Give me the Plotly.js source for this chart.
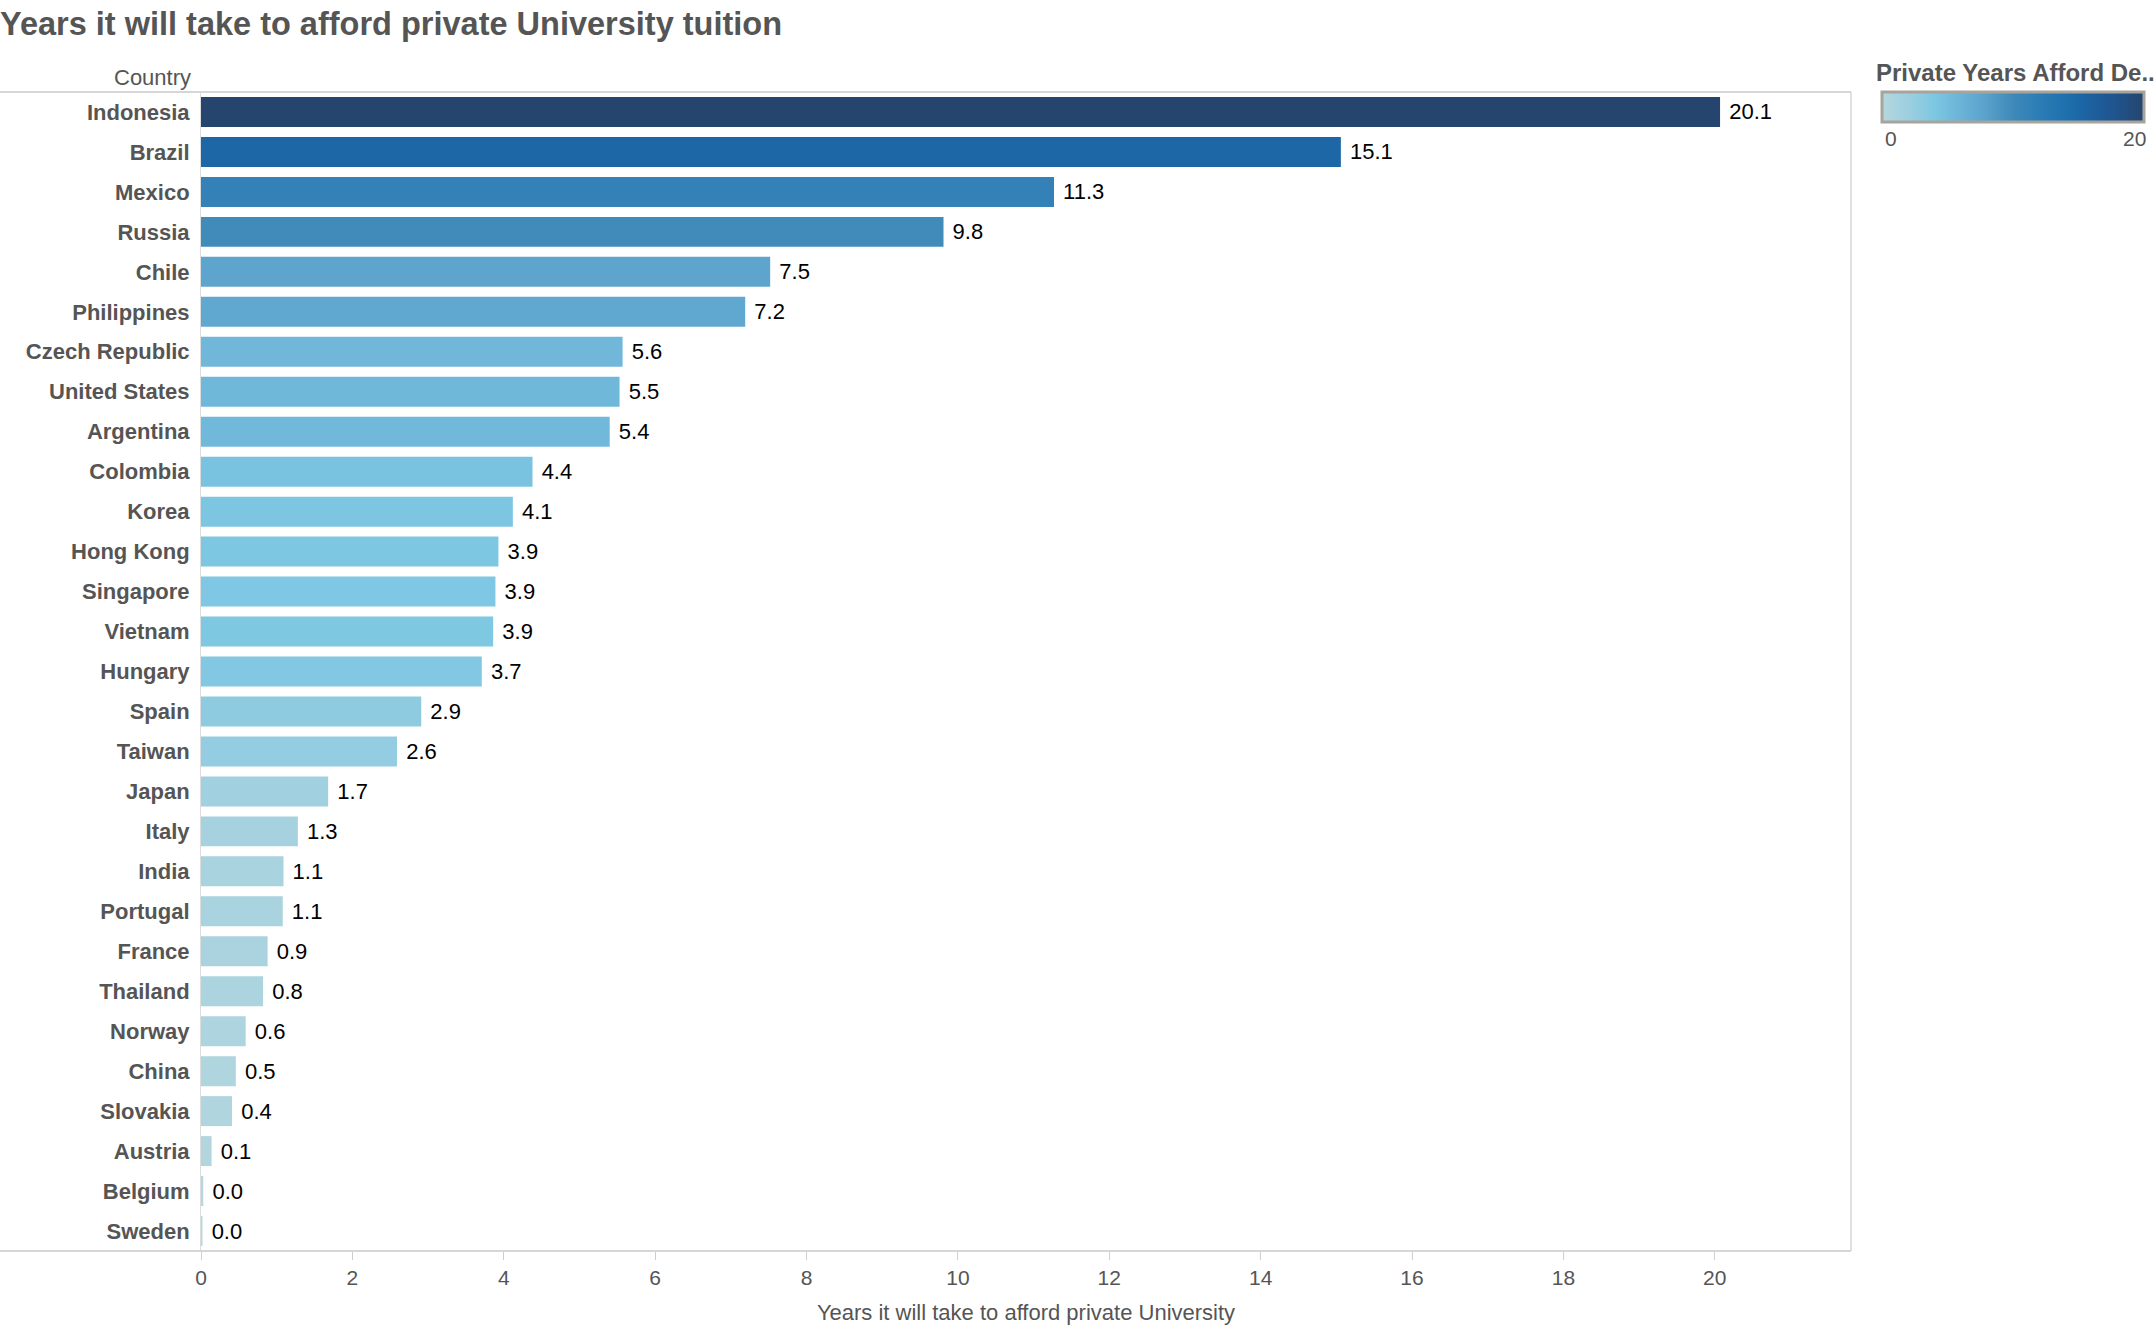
<!DOCTYPE html>
<html>
<head>
<meta charset="utf-8">
<script src="https://cdn.plot.ly/plotly-3.0.1.min.js"></script>
<style>html,body{margin:0;padding:0;background:#fff;}#chart{width:2156px;height:1332px;}</style>
</head>
<body>
<div id="chart"></div>
<script>
const countries = ['Indonesia','Brazil','Mexico','Russia','Chile','Philippines','Czech Republic','United States','Argentina','Colombia','Korea','Hong Kong','Singapore','Vietnam','Hungary','Spain','Taiwan','Japan','Italy','India','Portugal','France','Thailand','Norway','China','Slovakia','Austria','Belgium','Sweden'];
const yearsToAfford = [20.07,15.06,11.27,9.81,7.52,7.19,5.57,5.53,5.40,4.38,4.12,3.93,3.89,3.86,3.71,2.91,2.59,1.68,1.28,1.09,1.08,0.88,0.82,0.59,0.46,0.41,0.14,0.03,0.02];
const xTicks = [0,2,4,6,8,10,12,14,16,18,20];
const legendTicks = [0,20];

const FONT = '"Liberation Sans", Arial, sans-serif';
const GREY = '#555555';

const colorscale = [
  [0.00,'#b5d7de'],
  [0.10,'#9dcfe0'],
  [0.20,'#7dc7e2'],
  [0.30,'#6cb3d8'],
  [0.40,'#59a1cb'],
  [0.50,'#3e89b9'],
  [0.60,'#2c7db6'],
  [0.70,'#1e70ae'],
  [0.78,'#1c63a2'],
  [0.88,'#1f5590'],
  [1.00,'#26456e']
];

const trace = {
  type: 'bar',
  orientation: 'h',
  y: countries,
  x: yearsToAfford,
  width: 0.75,
  marker: {
    color: yearsToAfford,
    colorscale: colorscale,
    cmin: 0,
    cmax: 20,
    line: {width: 0},
    showscale: true,
    colorbar: {
      orientation: 'h',
      x: (1882-201)/1650, xanchor: 'left', xref: 'paper',
      y: 1, yanchor: 'top', yref: 'paper',
      lenmode: 'pixels', len: 262,
      thickness: 30,
      xpad: 0, ypad: 0,
      outlinecolor: '#a8a49c', outlinewidth: 3,
      tickvals: legendTicks,
      showticklabels: false,
      ticks: ''
    }
  },
  texttemplate: '\u00a0%{x:.1f}',
  textposition: 'outside',
  textfont: {family: FONT, size: 22, color: '#000000'},
  cliponaxis: false,
  hoverinfo: 'skip'
};

const layout = {
  width: 2156,
  height: 1332,
  margin: {l: 201, r: 305, t: 92, b: 81, pad: 0},
  paper_bgcolor: '#ffffff',
  plot_bgcolor: '#ffffff',
  showlegend: false,
  title: {
    text: 'Years it will take to afford private University tuition',
    font: {family: FONT, size: 32.5, color: GREY, weight: 'bold'},
    x: 0, xref: 'container', xanchor: 'left',
    y: 1 - 24/1332, yref: 'container', yanchor: 'middle',
    pad: {l: 0, t: 0}
  },
  xaxis: {
    range: [0, 21.8],
    tickvals: xTicks,
    ticks: 'outside',
    ticklen: 8,
    tickwidth: 1,
    tickcolor: '#d0d0d0',
    showgrid: false,
    zeroline: false,
    showline: false,
    tickfont: {family: FONT, size: 21, color: GREY},
    title: {
      text: 'Years it will take to afford private University',
      font: {family: FONT, size: 22, color: GREY},
      standoff: 16
    },
    automargin: false
  },
  yaxis: {
    type: 'category',
    autorange: 'reversed',
    showgrid: false,
    zeroline: false,
    showline: true,
    linecolor: '#dcdcdc',
    linewidth: 1,
    ticks: '',
    ticklabelstandoff: 6,
    tickfont: {family: FONT, size: 22, color: GREY, weight: 'bold'},
    automargin: false
  },
  bargap: 0.25,
  shapes: [
    {type: 'line', xref: 'paper', yref: 'paper', x0: -201/1650, x1: 1, y0: 1, y1: 1, line: {color: '#d6d6d6', width: 2}},
    {type: 'line', xref: 'paper', yref: 'paper', x0: -201/1650, x1: 1, y0: 0, y1: 0, line: {color: '#d6d6d6', width: 2}},
    {type: 'line', xref: 'paper', yref: 'paper', x0: 1, x1: 1, y0: 0, y1: 1, line: {color: '#d6d6d6', width: 1.5}}
  ],
  annotations: [
    {text: 'Country', xref: 'paper', yref: 'paper', x: (193-201)/1650, y: 1 + (92-78)/1159, xanchor: 'right', yanchor: 'middle', showarrow: false, font: {family: FONT, size: 22, color: GREY}},
    {text: 'Private Years Afford De..', xref: 'paper', yref: 'paper', x: (1874-201)/1650, y: 1 + (92-73)/1159, xanchor: 'left', yanchor: 'middle', showarrow: false, font: {family: FONT, size: 24, color: GREY, weight: 'bold'}},
    {text: String(legendTicks[0]), xref: 'paper', yref: 'paper', x: (1883-201)/1650, y: 1 - (138-92)/1159, xanchor: 'left', yanchor: 'middle', showarrow: false, font: {family: FONT, size: 21, color: GREY}},
    {text: String(legendTicks[1]), xref: 'paper', yref: 'paper', x: (2148-201)/1650, y: 1 - (138-92)/1159, xanchor: 'right', yanchor: 'middle', showarrow: false, font: {family: FONT, size: 21, color: GREY}}
  ]
};

Plotly.newPlot('chart', [trace], layout, {displayModeBar: false, staticPlot: true});
</script>
</body>
</html>
